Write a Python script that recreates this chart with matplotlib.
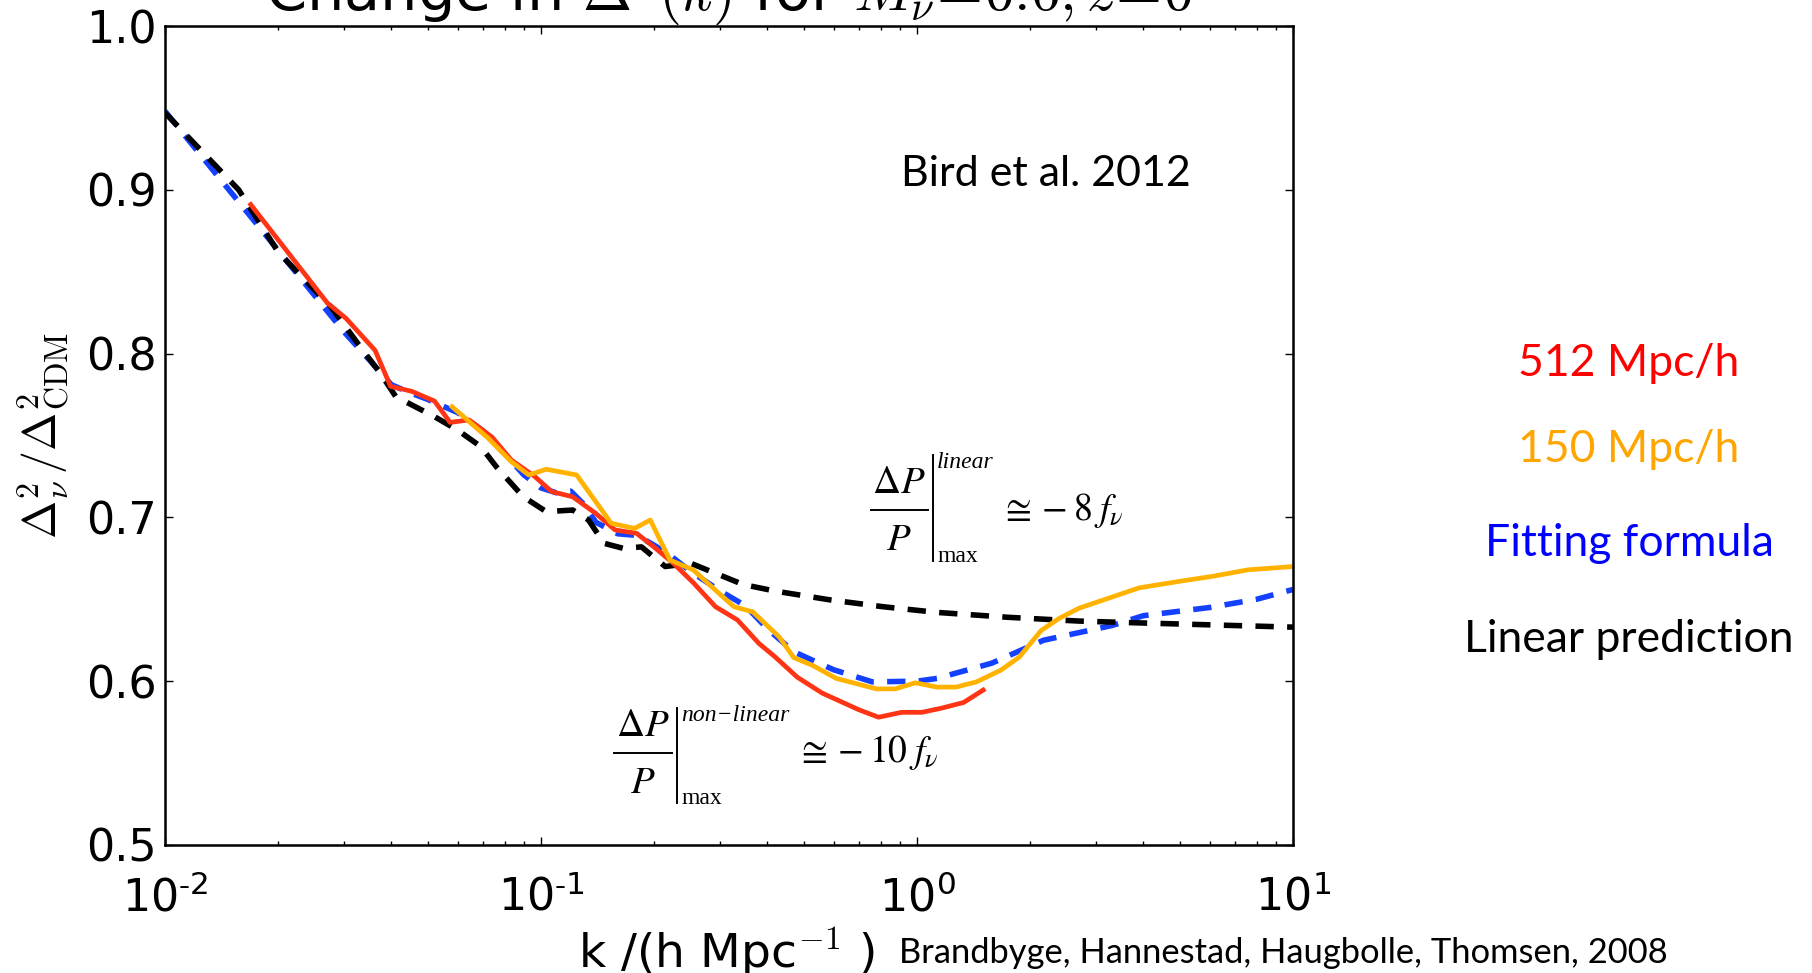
import matplotlib
matplotlib.use('Agg')
import matplotlib.pyplot as plt
from matplotlib.lines import Line2D
from matplotlib.ticker import FormatStrFormatter, LogLocator, NullFormatter

# --- data ---
black_k = [0.01, 0.0157, 0.02, 0.0276, 0.0341, 0.0374, 0.0411, 0.0521, 0.06, 0.0692,
           0.076, 0.0897, 0.1033, 0.1214, 0.1338, 0.147, 0.1655, 0.185, 0.214, 0.25,
           0.305, 0.345, 0.42, 0.585, 0.81, 1.13, 1.75, 2.7, 3.9, 10.0]
black_v = [0.947, 0.900, 0.862, 0.8286, 0.800, 0.788, 0.7737, 0.7615, 0.7533, 0.7432,
           0.731, 0.7126, 0.7035, 0.7045, 0.6984, 0.6842, 0.6811, 0.682, 0.670, 0.672,
           0.664, 0.659, 0.655, 0.6497, 0.6455, 0.642, 0.639, 0.6367, 0.6356, 0.633]

blue_k = [0.01, 0.02, 0.03, 0.035, 0.04, 0.045, 0.05, 0.06, 0.07, 0.08, 0.09, 0.1,
          0.11, 0.12, 0.13, 0.14, 0.16, 0.18, 0.2, 0.22, 0.25, 0.3, 0.35, 0.4, 0.47,
          0.6, 0.76, 1.0, 1.13, 1.58, 2.17, 3.3, 4.0, 6.0, 8.0, 10.0]
blue_v = [0.948, 0.863, 0.813, 0.796, 0.781, 0.776, 0.772, 0.764, 0.753, 0.739, 0.726, 0.718,
          0.715, 0.716, 0.708, 0.697, 0.690, 0.689, 0.683, 0.677, 0.667, 0.655, 0.646, 0.632, 0.618,
          0.607, 0.5996, 0.600, 0.6017, 0.611, 0.625, 0.634, 0.640, 0.645, 0.650, 0.656]

red_k = [0.0169, 0.027, 0.0303, 0.0362, 0.0398, 0.0453, 0.0521, 0.0573, 0.0644, 0.0741,
         0.0834, 0.0962, 0.1068, 0.1214, 0.1397, 0.1575, 0.1795, 0.1996, 0.2249, 0.2545,
         0.291, 0.333, 0.38, 0.42, 0.48, 0.56, 0.70, 0.79, 0.91, 1.03, 1.16, 1.33, 1.5]
red_v = [0.891, 0.831, 0.8215, 0.802, 0.780, 0.777, 0.771, 0.758, 0.7595, 0.749,
         0.735, 0.725, 0.7157, 0.7126, 0.7025, 0.6923, 0.6903, 0.682, 0.672, 0.660,
         0.6455, 0.6374, 0.623, 0.6147, 0.6025, 0.5927, 0.5826, 0.578, 0.581, 0.581, 0.5835, 0.587, 0.5946]

orange_k = [0.058, 0.0724, 0.0834, 0.0928, 0.1033, 0.1244, 0.1537, 0.1774, 0.1953, 0.2201,
            0.2538, 0.291, 0.326, 0.366, 0.43, 0.47, 0.526, 0.61, 0.78, 0.875, 0.99, 1.13,
            1.27, 1.44, 1.67, 1.87, 2.14, 2.39, 2.7, 3.9, 5.0, 6.1, 7.6, 10.0]
orange_v = [0.7676, 0.7483, 0.734, 0.7259, 0.7294, 0.7259, 0.6964, 0.6933, 0.6984, 0.674,
            0.668, 0.6556, 0.6455, 0.6423, 0.627, 0.6144, 0.6098, 0.6017, 0.5953, 0.5953, 0.599, 0.5964,
            0.5964, 0.5996, 0.6067, 0.6147, 0.631, 0.6384, 0.6446, 0.657, 0.661, 0.664, 0.668, 0.670]

y_ticks = [0.5, 0.6, 0.7, 0.8, 0.9, 1.0]
x_ticks = [0.01, 0.1, 1.0, 10.0]
x_ticklabels = [r'$\mathdefault{10^{\text{-}2}}$', r'$\mathdefault{10^{\text{-}1}}$',
                r'$\mathdefault{10^{0}}$', r'$\mathdefault{10^{1}}$']

legend_names = ['512 Mpc/h', '150 Mpc/h', 'Fitting formula', 'Linear prediction']
legend_colors = ['#ff0000', '#ffa500', '#0000ff', '#000000']
legend_rows = [364, 449, 543, 639]  # pixel rows of the side labels

W, H = 1812, 973


def fx(x):
    return x / W


def fy(y):
    return 1 - y / H


plt.rcParams['mathtext.fontset'] = 'cm'
plt.rcParams['font.family'] = 'DejaVu Sans'

fig = plt.figure(figsize=(W / 100, H / 100), dpi=100)
ax = fig.add_axes([fx(165), fy(845), 1128 / W, 819 / H])

dash = (3.3, 2.4)
ax.plot(blue_k, blue_v, color='#1440ff', lw=4.0, dashes=dash)
ax.plot(black_k, black_v, color='black', lw=4.0, dashes=dash)
ax.plot(red_k, red_v, color='#ff3414', lw=3.4)
ax.plot(orange_k, orange_v, color='#ffb300', lw=3.4)

ax.set_xscale('log')
ax.set_xlim(0.01, 10)
ax.set_ylim(0.5, 1.0)
ax.set_xticks(x_ticks)
ax.set_xticklabels(x_ticklabels)
ax.xaxis.set_minor_locator(LogLocator(base=10, subs=range(2, 10)))
ax.xaxis.set_minor_formatter(NullFormatter())
ax.set_yticks(y_ticks)
ax.yaxis.set_major_formatter(FormatStrFormatter('%.1f'))
ax.tick_params(which='both', direction='in', top=True, right=True, width=1.0)
ax.tick_params(which='major', length=6, labelsize=32)
ax.tick_params(which='minor', length=3)
ax.tick_params(axis='y', pad=6)
ax.tick_params(axis='x', pad=22)
for s in ax.spines.values():
    s.set_linewidth(1.8)

# title, partly cut by the top edge as in the original
fig.text(fx(729), fy(11), r'Change in $\Delta^2(k)$ for $M_\nu\!=\!0.6, z\!=\!0$',
         ha='center', va='baseline', fontsize=42.5)

fig.text(fx(43), fy(436), r'$\Delta^2_\nu\,/\Delta^2_{\rm CDM}$', rotation=90,
         ha='center', va='center', fontsize=33)
fig.text(fx(727), fy(968), r'k /(h Mpc$^{-1}$ )', ha='center', va='baseline', fontsize=34)
fig.text(fx(899), fy(963), 'Brandbyge, Hannestad, Haugbolle, Thomsen, 2008',
         ha='left', va='baseline', fontsize=24.8, family='Lato')
fig.text(fx(1046), fy(174), 'Bird et al. 2012', ha='center', va='center',
         fontsize=31, family='Lato')

for name, col, row in zip(legend_names, legend_colors, legend_rows):
    fig.text(fx(1629), fy(row), name, color=col, ha='center', va='center',
             fontsize=32, family='Lato')


def note(cx, bar_y, bar_w, vx, v_top, v_bot, sup, rhs, rhs_x):
    fig.text(fx(cx), fy(bar_y - 17), r'$\Delta P$', ha='center', va='baseline',
             fontsize=28, math_fontfamily='stix')
    fig.text(fx(cx), fy(bar_y + 40), r'$P$', ha='center', va='baseline',
             fontsize=28, math_fontfamily='stix')
    fig.add_artist(Line2D([fx(cx - bar_w / 2), fx(cx + bar_w / 2)], [fy(bar_y), fy(bar_y)],
                          color='black', lw=1.4, transform=fig.transFigure))
    fig.add_artist(Line2D([fx(vx), fx(vx)], [fy(v_top), fy(v_bot)],
                          color='black', lw=1.4, transform=fig.transFigure))
    fig.text(fx(vx + 4), fy(v_top + 13), sup, ha='left', va='baseline',
             fontsize=17, family='Liberation Serif', style='italic')
    fig.text(fx(vx + 4), fy(v_bot + 1), 'max', ha='left', va='baseline',
             fontsize=17, family='Liberation Serif')
    fig.text(fx(rhs_x), fy(bar_y), rhs, ha='left', va='center',
             fontsize=27, math_fontfamily='stix')


note(899, 510, 57, 933, 455, 561, 'linear', r'$\cong -8\;f_\nu$', 1000)
note(643, 753, 58, 677, 708, 803, 'non\u2212linear', r'$\cong -10\;f_\nu$', 796)

fig.savefig('out.png', dpi=100, facecolor='white')
